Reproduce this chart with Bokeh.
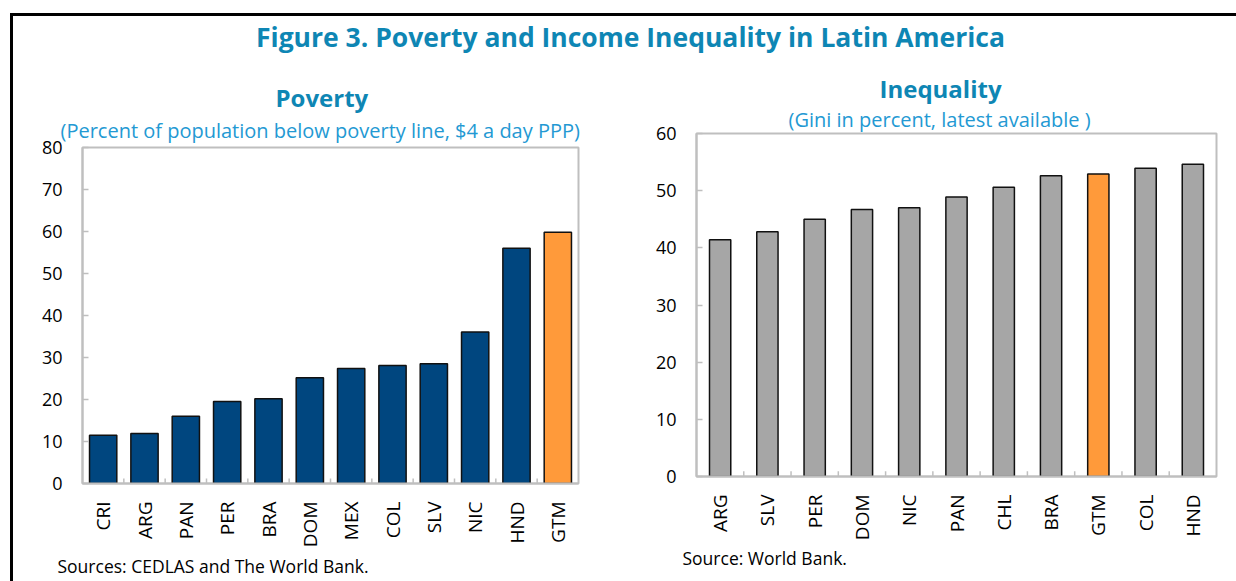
from bokeh.plotting import figure
from bokeh.models import Title, Label, Range1d, FactorRange, ColumnDataSource
from bokeh.layouts import column, row
from bokeh.embed import file_html
from bokeh.resources import INLINE

# ---- data ----
pov_countries = ["CRI", "ARG", "PAN", "PER", "BRA", "DOM", "MEX", "COL", "SLV", "NIC", "HND", "GTM"]
pov_values = [11.5, 11.9, 16.0, 19.5, 20.2, 25.2, 27.4, 28.1, 28.5, 36.1, 56.0, 59.8]
gini_countries = ["ARG", "SLV", "PER", "DOM", "NIC", "PAN", "CHL", "BRA", "GTM", "COL", "HND"]
gini_values = [41.4, 42.8, 45.0, 46.7, 47.0, 48.9, 50.6, 52.6, 52.9, 53.9, 54.6]
pov_ticks = [0, 10, 20, 30, 40, 50, 60, 70, 80]
gini_ticks = [0, 10, 20, 30, 40, 50, 60]

TITLE_C = "#0E86B4"
SUB_C = "#2399D3"
NAVY = "#00467F"
ORANGE = "#FF9A3A"
GRAY = "#A6A6A6"
FRAME = "#BFBFBF"
FONT = "Open Sans"


def panel(countries, values, base_color, ticks, ymax, width, mb, title, subtitle,
          source_text, title_off, sub_off, sub_standoff, src_off, src_standoff, bar_w, minor_h):
    colors = [ORANGE if c == "GTM" else base_color for c in countries]
    src = ColumnDataSource(dict(x=countries, top=values, color=colors))
    p = figure(width=width, height=521, x_range=FactorRange(*countries, range_padding=0),
               y_range=Range1d(0, ymax), output_backend="svg", toolbar_location=None,
               min_border_left=mb[0], min_border_right=mb[1], min_border_top=mb[2],
               min_border_bottom=mb[3])
    p.vbar(x="x", top="top", width=bar_w, source=src, fill_color="color",
           line_color="#111111", line_width=1.5)
    # small boundary ticks between categories
    bx = [i for i in range(1, len(countries))]
    p.segment(x0=bx, x1=bx, y0=[0] * len(bx), y1=[minor_h] * len(bx),
              line_color=FRAME, line_width=1.5)
    p.xgrid.visible = False
    p.ygrid.visible = False
    p.outline_line_color = FRAME
    p.outline_line_width = 2
    p.yaxis.ticker = ticks
    for ax in (p.xaxis[0], p.yaxis[0]):
        ax.axis_line_color = FRAME
        ax.axis_line_width = 2
        ax.major_tick_line_color = FRAME
        ax.major_tick_line_width = 1.5
        ax.minor_tick_line_color = None
        ax.major_label_text_font = FONT
        ax.major_label_text_color = "#000000"
    p.yaxis.major_tick_in = 6
    p.yaxis.major_tick_out = 0
    p.yaxis.major_label_text_font_size = "18px"
    p.yaxis.major_label_standoff = 20
    p.xaxis.major_tick_line_color = None
    p.xaxis.major_tick_out = 0
    p.xaxis.major_tick_in = 0
    p.xaxis.major_label_orientation = 1.5708
    p.xaxis.major_label_text_font_size = "19px"
    p.xaxis.major_label_standoff = 18
    p.add_layout(Title(text=source_text, align="left", offset=src_off, text_font=FONT,
                       text_font_size="17.5px", text_font_style="normal",
                       text_color="#000000", standoff=src_standoff), "below")
    p.add_layout(Title(text=subtitle, align="left", offset=sub_off, text_font=FONT,
                       text_font_size="20px", text_font_style="normal",
                       text_color=SUB_C, standoff=sub_standoff), "above")
    p.add_layout(Title(text=title, align="left", offset=title_off, text_font=FONT,
                       text_font_size="24px", text_font_style="bold",
                       text_color=TITLE_C, standoff=-4), "above")
    return p


left = panel(pov_countries, pov_values, NAVY, pov_ticks, 80, 617, (69, 52, 87, 98),
             "Poverty", "(Percent of population below poverty line, $4 a day PPP)",
             "Sources: CEDLAS and The World Bank.", 193, -22, 7, -25, 3, 0.66, 1.2)
right = panel(gini_countries, gini_values, GRAY, gini_ticks, 60, 606, (66, 20, 73, 105),
              "Inequality", "(Gini in percent, latest available )",
              "Source: World Bank.", 183, 92, 2, -14, 0, 0.45, 0.9)

header = figure(width=1223, height=44, x_range=Range1d(0, 1223), y_range=Range1d(0, 44),
                output_backend="svg", toolbar_location=None, min_border=0)
header.axis.visible = False
header.grid.visible = False
header.outline_line_color = None
header.add_layout(Label(x=617, y=24, text="Figure 3. Poverty and Income Inequality in Latin America",
                        text_align="center", text_baseline="middle", text_font=FONT,
                        text_font_size="26.5px", text_font_style="bold", text_color=TITLE_C))

layout = column(header, row(column(left), column(right), spacing=0), spacing=0,
                margin=(13, 0, 0, 10),
                styles={"border-top": "3px solid #000000", "border-left": "3px solid #000000"})

open("out.html", "w").write(file_html(layout, INLINE))
